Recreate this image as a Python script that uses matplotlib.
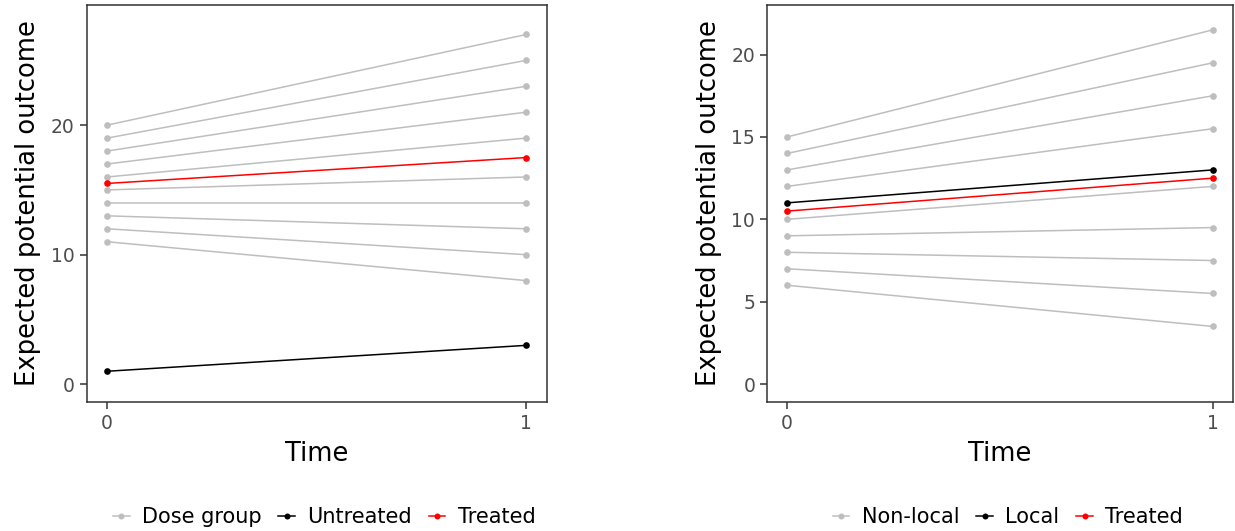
import numpy as np
import matplotlib.pyplot as plt

# panel 1 : dose groups (time 0 -> time 1)
time = [0, 1]
dose_start = [20, 19, 18, 17, 16, 15, 14, 13, 12, 11]
dose_end = [27, 25, 23, 21, 19, 16, 14, 12, 10, 8]
untreated = [1, 3]
treated1 = [15.5, 17.5]

# panel 2 : non-local units
nonlocal_start = [15, 14, 13, 12, 10, 9, 8, 7, 6]
nonlocal_end = [21.5, 19.5, 17.5, 15.5, 12, 9.5, 7.5, 5.5, 3.5]
local = [11, 13]
treated2 = [10.5, 12.5]

grey = '#BEBEBE'
plt.rcParams['font.family'] = 'DejaVu Sans'

fig = plt.figure(figsize=(12.35, 5.31), dpi=100)
ax1 = fig.add_axes([86.5/1235, 1-401.7/531, 460/1235, 397/531])
ax2 = fig.add_axes([767/1235, 1-401.7/531, 466/1235, 397/531])


def style(ax):
    for s in ax.spines.values():
        s.set_color('#333333')
        s.set_linewidth(1.1)
    ax.tick_params(colors='#333333', labelcolor='#4D4D4D', labelsize=13.5,
                   length=5, width=1.1)
    ax.set_xlabel('Time', fontsize=18.5, labelpad=6)
    ax.set_ylabel('Expected potential outcome', fontsize=18.6, labelpad=7)
    ax.set_xticks([0, 1])


kw = dict(lw=1.1, marker='o', ms=4.8, mew=0)

for s, e in zip(dose_start, dose_end):
    ax1.plot(time, [s, e], color=grey, **kw)
ax1.plot([], [], color=grey, label='Dose group', **kw)
ax1.plot(time, untreated, color='black', label='Untreated', **kw)
ax1.plot(time, treated1, color='red', label='Treated', **kw)
ax1.set_xlim(-0.049, 1.0486)
ax1.set_ylim(-1.35, 29.3)
ax1.set_yticks([0, 10, 20])
style(ax1)

for s, e in zip(nonlocal_start, nonlocal_end):
    ax2.plot(time, [s, e], color=grey, **kw)
ax2.plot([], [], color=grey, label='Non-local', **kw)
ax2.plot(time, local, color='black', label='Local', **kw)
ax2.plot(time, treated2, color='red', label='Treated', **kw)
ax2.set_xlim(-0.047, 1.048)
ax2.set_ylim(-1.07, 23.03)
ax2.set_yticks([0, 5, 10, 15, 20])
style(ax2)

for ax in (ax1, ax2):
    ax.legend(loc='center', bbox_to_anchor=(0.517, -0.29), ncol=3, frameon=False,
              fontsize=15, handlelength=0.8, handletextpad=0.6, columnspacing=0.8,
              markerscale=0.9)

fig.savefig('out.png', dpi=100)
